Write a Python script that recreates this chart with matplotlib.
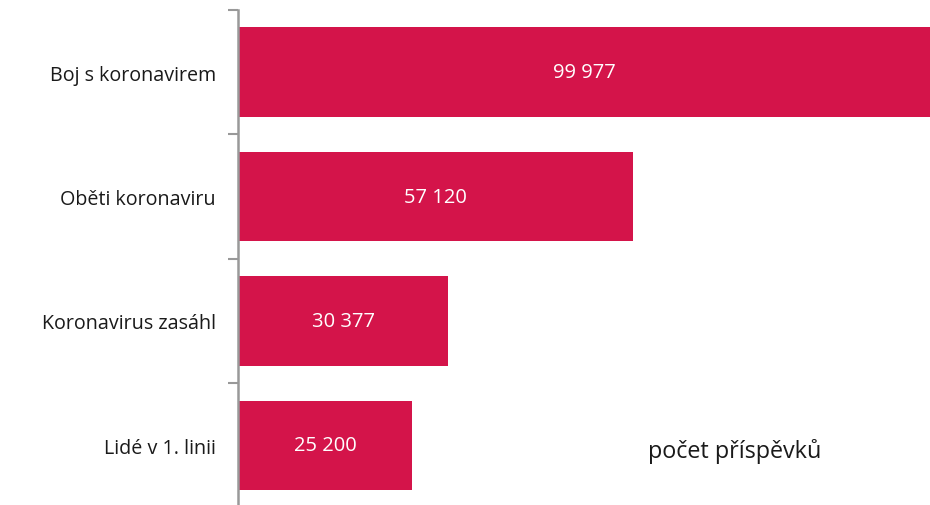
import matplotlib
matplotlib.use("Agg")
import matplotlib.pyplot as plt

categories = ["Boj s koronavirem", "Oběti koronaviru", "Koronavirus zasáhl", "Lidé v 1. linii"]
values = [99977, 57120, 30377, 25200]
note = "počet příspěvků"

plt.rcParams['font.family'] = ['Open Sans', 'DejaVu Sans']

fig = plt.figure(figsize=(9.3, 5.06), dpi=100)
ax = fig.add_axes([238/930, -2.5/506, 1 - 238/930, 497.5/506])

pos = list(range(len(categories)))
bars = ax.barh(pos, values, height=0.72, color='#D4144A', edgecolor='none')
ax.bar_label(bars, labels=[f"{v:,}".replace(",", " ") for v in values],
             label_type='center', color='white', fontsize=14.5)

ax.set_ylim(3.5, -0.5)
ax.set_xlim(0, 100000)
ax.set_yticks(pos)
ax.set_yticklabels(categories, fontsize=14.2, color='#1a1a1a')
ax.tick_params(axis='y', which='major', length=0, pad=16)
ax.set_yticks([-0.5, 0.5, 1.5, 2.5, 3.5], minor=True)
ax.tick_params(axis='y', which='minor', length=7, width=1.5, color='#999999')
ax.set_xticks([])
for s in ['top', 'right', 'bottom']:
    ax.spines[s].set_visible(False)
ax.spines['left'].set_color('#999999')
ax.spines['left'].set_linewidth(1.8)

fig.text(648/930, 1 - 452/506, note, ha='left', va='center', fontsize=16.8, color='#1a1a1a')

fig.savefig("out.png", dpi=100)
